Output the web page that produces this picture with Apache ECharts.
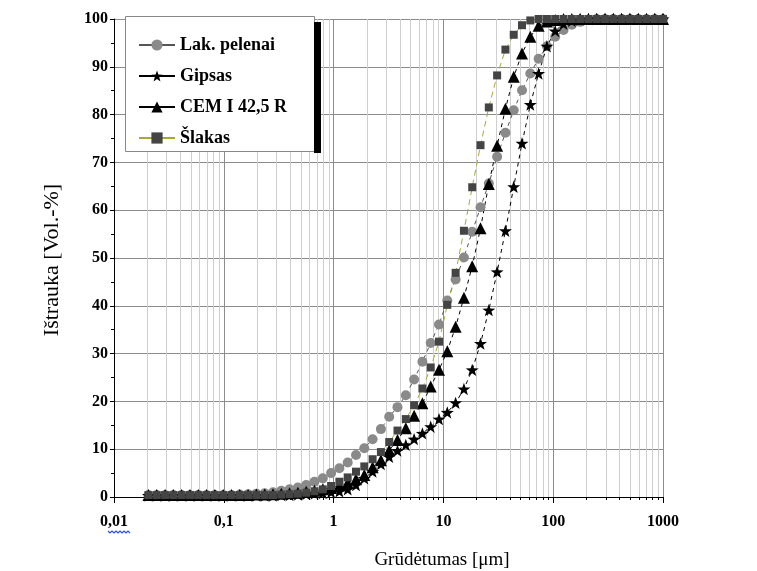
<!DOCTYPE html>
<html>
<head>
<meta charset="utf-8">
<script src="https://cdn.jsdelivr.net/npm/echarts@6/dist/echarts.min.js"></script>
<style>html,body{margin:0;padding:0;background:#fff;}#c{width:757px;height:571px;}</style>
</head>
<body>
<div id="c"></div>
<script>
// particle sizes (µm), shared by all series
const xs = [0.0206,0.0245,0.0292,0.0347,0.0413,0.0492,0.0586,0.0697,0.0829,0.0987,
  0.1175,0.1398,0.1664,0.198,0.2357,0.2805,0.3339,0.3973,0.4729,0.5629,
  0.6699,0.7973,0.949,1.129,1.344,1.6,1.904,2.266,2.697,3.21,
  3.819,4.546,5.41,6.439,7.663,9.12,10.85,12.92,15.38,18.3,
  21.78,25.92,30.85,36.72,43.7,52.0,61.89,73.66,87.67,104.3,
  124.2,147.8,175.9,209.4,249.2,296.5,352.9,420.1,499.9,595.0,
  707.9,842.6,1000];
const pelenai = [0.4,0.4,0.4,0.4,0.4,0.4,0.4,0.4,0.4,0.4,0.4,
  0.5,0.6,0.7,0.8,1.0,1.3,1.6,2.0,2.5,
  3.2,3.9,5.0,6.0,7.2,8.8,10.2,12.1,14.2,16.8,
  18.8,21.3,24.6,28.3,32.2,36.1,41.1,45.5,50.1,55.5,
  60.6,65.6,71.2,76.2,80.9,85.1,88.6,91.7,94.3,96.3,
  97.7,98.8,99.4,99.8,
  100,100,100,100,100,100,100,100,100];
const gipsas = [0.3,0.3,0.3,0.3,0.3,0.3,0.3,0.3,0.3,0.3,0.3,0.3,0.3,0.3,0.3,0.3,
  0.4,0.4,0.5,0.6,
  0.7,0.8,1.0,1.2,1.6,2.5,3.9,5.3,6.9,8.4,
  9.7,10.9,12.1,13.3,14.7,16.3,17.7,19.7,22.6,26.6,
  32.1,39.1,47.1,55.7,64.9,74.0,82.1,88.6,94.3,97.5,
  99.0,99.6,99.9,
  100,100,100,100,100,100,100,100,100,100];
const cem = [0.4,0.4,0.4,0.4,0.4,0.4,0.4,0.4,0.4,0.4,0.4,0.4,0.4,
  0.5,0.5,0.6,0.7,0.8,0.9,1.1,
  1.3,1.6,1.9,2.4,3.0,3.7,4.6,6.2,7.7,9.8,
  11.9,14.4,17.0,19.6,23.1,26.6,30.5,35.6,41.7,48.3,
  56.2,65.5,73.5,81.2,87.9,92.8,96.3,98.6,99.5,99.8,
  100,100,100,100,100,100,100,100,100,100,100,100,100];
const slakas = [0.4,0.4,0.4,0.4,0.4,0.4,0.4,0.4,0.4,0.4,0.4,0.4,0.4,0.4,0.4,0.4,
  0.5,0.6,0.7,0.9,
  1.2,1.6,2.3,3.2,4.1,5.3,6.4,7.9,9.4,11.5,
  13.9,16.3,19.2,22.7,27.1,32.5,40.2,46.9,55.7,64.8,
  73.6,81.5,88.2,93.6,96.7,98.7,99.7,
  100,100,100,100,100,100,100,100,100,100,100,100,100,100,100,100];
const seriesNames = ['Lak. pelenai','Gipsas','CEM I 42,5 R','Šlakas'];
const xTickLabels = ['0,01','0,1','1','10','100','1000'];
const minorX = [0.02,0.03,0.04,0.05,0.06,0.07,0.08,0.09,0.2,0.3,0.4,0.5,0.6,0.7,0.8,0.9,
  2,3,4,5,6,7,8,9,20,30,40,50,60,70,80,90,200,300,400,500,600,700,800,900];

const FONT = 'Liberation Serif';
const STAR = 'path://M0,-10 L2.35,-3.24 L9.51,-3.09 L3.8,1.24 L5.88,8.09 L0,4 L-5.88,8.09 L-3.8,1.24 L-9.51,-3.09 L-2.35,-3.24 Z';
const pair = arr => xs.map((x, i) => [x, arr[i]]);

const chart = echarts.init(document.getElementById('c'), null, {renderer: 'canvas'});
chart.setOption({
  animation: false,
  backgroundColor: '#fff',
  grid: {left: 114, right: 94, top: 19, bottom: 74, containLabel: false},
  xAxis: {
    type: 'log', logBase: 10, min: 0.01, max: 1000,
    axisLine: {lineStyle: {color: '#000', width: 1}},
    axisTick: {show: true, length: 6, lineStyle: {color: '#000'}},
    minorTick: {show: false}, minorSplitLine: {show: false},
    splitLine: {show: true, lineStyle: {color: '#8c8c8c', width: 1}},
    axisLabel: {
      margin: 17, color: '#000', fontFamily: FONT, fontWeight: 'bold', fontSize: 16,
      formatter: v => xTickLabels[Math.round(Math.log10(v)) + 2] || ''
    }
  },
  yAxis: {
    type: 'value', min: 0, max: 100, interval: 10,
    axisLine: {show: true, lineStyle: {color: '#000', width: 1}},
    axisTick: {show: true, length: 4, lineStyle: {color: '#000'}},
    minorTick: {show: true, splitNumber: 2, length: 3, lineStyle: {color: '#000'}},
    splitLine: {show: true, lineStyle: {color: '#8c8c8c', width: 1}},
    axisLabel: {margin: 6, color: '#000', fontFamily: FONT, fontWeight: 'bold', fontSize: 16}
  },
  legend: {
    data: seriesNames,
    orient: 'vertical', left: 138, top: 36, padding: 0,
    itemWidth: 36, itemHeight: 14, itemGap: 13,
    lineStyle: {type: 'solid', width: 2},
    textStyle: {fontFamily: FONT, fontWeight: 'bold', fontSize: 18, color: '#000'},
    z: 10
  },
  graphic: [
    {type: 'rect', z: 5, shape: {x: 125.5, y: 16.5, width: 189, height: 135},
      style: {fill: '#fff', stroke: '#888', lineWidth: 1}},
    {type: 'rect', z: 5, shape: {x: 314, y: 22, width: 7, height: 131}, style: {fill: '#000'}},
    {type: 'text', z: 5, x: 52, y: 260, rotation: Math.PI / 2,
      style: {text: 'Ištrauka [Vol.-%]', font: '22px "Liberation Serif"', fill: '#000',
        textAlign: 'center', textVerticalAlign: 'middle'}},
    {type: 'text', z: 5, x: 442, y: 560,
      style: {text: 'Grūdėtumas [μm]', font: '19px "Liberation Serif"', fill: '#000',
        textAlign: 'center', textVerticalAlign: 'middle'}},
    {type: 'polyline', z: 5, shape: {points: [[108,531],[110,533],[112,531],[114,533],[116,531],[118,533],[120,531],[122,533],[124,531],[126,533],[128,531],[130,533]]},
      style: {stroke: '#2d4fe0', lineWidth: 1.2, fill: null}}
  ],
  series: [
    {
      type: 'custom', name: 'minor', silent: true, z: 1, clip: false,
      data: minorX.map(v => [v, 0]),
      encode: {x: 0, y: 1},
      renderItem: (params, api) => {
        const p0 = api.coord([api.value(0), 0]);
        const p1 = api.coord([api.value(0), 100]);
        const x = Math.round(p0[0]) + 0.5;
        return {type: 'group', children: [
          {type: 'line', shape: {x1: x, y1: p0[1], x2: x, y2: p1[1]}, style: {stroke: '#cfcfcf', lineWidth: 1}},
          {type: 'line', shape: {x1: x, y1: p0[1], x2: x, y2: p0[1] + 3}, style: {stroke: '#000', lineWidth: 1}}
        ]};
      }
    },
    {
      type: 'line', name: seriesNames[0], data: pair(pelenai),
      symbol: 'circle', symbolSize: 10, showAllSymbol: true,
      itemStyle: {color: '#8a8a8a'},
      lineStyle: {color: '#555', width: 1, type: [4, 4]}
    },
    {
      type: 'line', name: seriesNames[1], data: pair(gipsas),
      symbol: STAR, symbolSize: 13, symbolKeepAspect: true, showAllSymbol: true,
      itemStyle: {color: '#000'},
      lineStyle: {color: '#000', width: 1, type: [4, 4]}
    },
    {
      type: 'line', name: seriesNames[2], data: pair(cem),
      symbol: 'triangle', symbolSize: 12, showAllSymbol: true,
      itemStyle: {color: '#000'},
      lineStyle: {color: '#000', width: 1, type: [4, 4]}
    },
    {
      type: 'line', name: seriesNames[3], data: pair(slakas),
      symbol: 'rect', symbolSize: 8, showAllSymbol: true,
      itemStyle: {color: '#444'},
      lineStyle: {color: '#a8a83a', width: 1, type: [6, 4]}
    }
  ]
});
</script>
</body>
</html>
